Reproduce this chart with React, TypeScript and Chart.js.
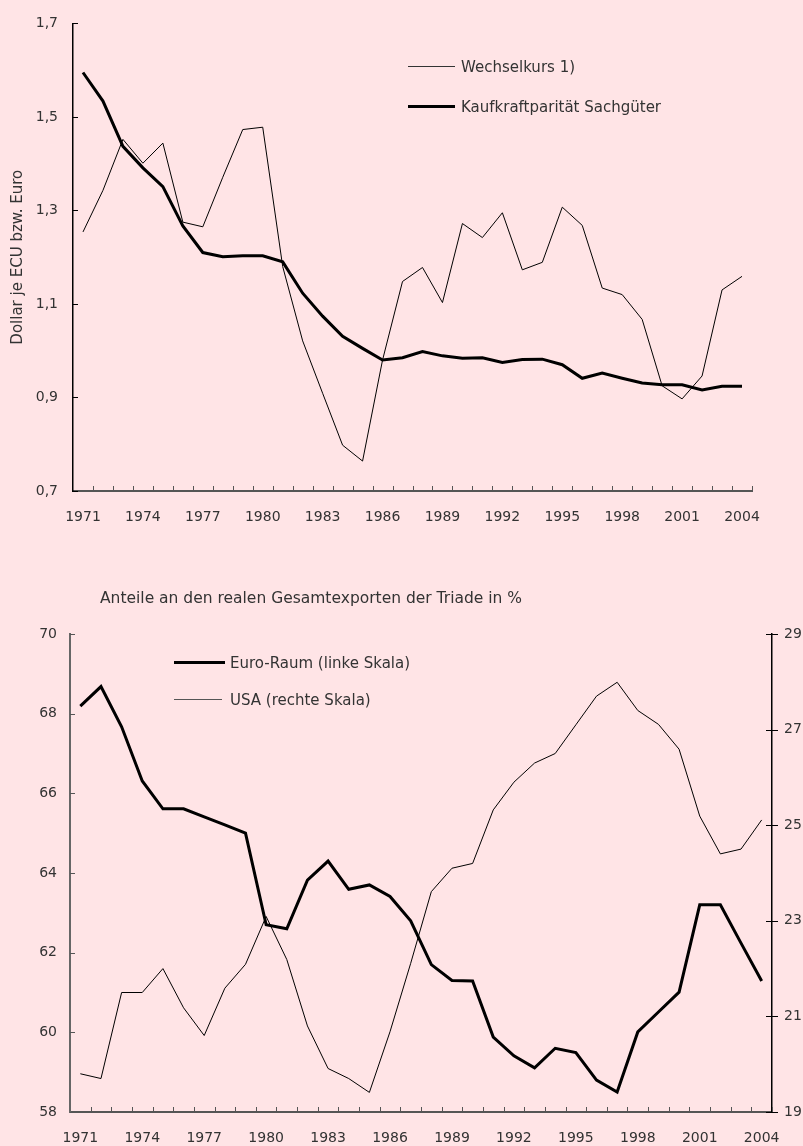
import React, { useEffect, useRef } from 'react';
import { Chart, registerables } from 'chart.js';
Chart.register(...registerables);

const years = [
  '1971','1972','1973','1974','1975','1976','1977','1978','1979','1980',
  '1981','1982','1983','1984','1985','1986','1987','1988','1989','1990',
  '1991','1992','1993','1994','1995','1996','1997','1998','1999','2000',
  '2001','2002','2003','2004',
];
const labeledYears = ['1971','1974','1977','1980','1983','1986','1989','1992','1995','1998','2001','2004'];

// Top chart: Dollar je ECU bzw. Euro
const wechselkurs = [
  1.254, 1.343, 1.452, 1.401, 1.444, 1.275, 1.265, 1.371, 1.473, 1.478,
  1.180, 1.021, 0.909, 0.798, 0.764, 0.980, 1.148, 1.178, 1.103, 1.272,
  1.242, 1.295, 1.173, 1.189, 1.307, 1.268, 1.134, 1.120, 1.067, 0.925,
  0.897, 0.946, 1.130, 1.159,
];
const kaufkraft = [
  1.595, 1.534, 1.437, 1.391, 1.351, 1.267, 1.210, 1.201, 1.203, 1.203,
  1.190, 1.123, 1.074, 1.031, 1.005, 0.980, 0.985, 0.998, 0.989, 0.984,
  0.985, 0.975, 0.981, 0.982, 0.970, 0.941, 0.952, 0.941, 0.931, 0.927,
  0.927, 0.916, 0.924, 0.924,
];

// Bottom chart: Anteile an den realen Gesamtexporten der Triade in %
const euroRaum = [
  68.19, 68.68, 67.67, 66.31, 65.61, 65.61, 65.41, 65.21, 65.00, 62.70,
  62.60, 63.82, 64.30, 63.59, 63.70, 63.41, 62.80, 61.70, 61.30, 61.29,
  59.88, 59.41, 59.11, 59.60, 59.49, 58.80, 58.50, 60.01, 60.51, 61.01,
  63.20, 63.20, 62.24, 61.29,
];
const usa = [
  19.80, 19.70, 21.50, 21.50, 22.00, 21.18, 20.60, 21.59, 22.09, 23.09,
  22.19, 20.80, 19.91, 19.70, 19.41, 20.68, 22.11, 23.61, 24.10, 24.20,
  25.32, 25.90, 26.30, 26.50, 27.10, 27.70, 27.99, 27.40, 27.11, 26.59,
  25.19, 24.40, 24.50, 25.11,
];

const FONT = "'DejaVu Sans', sans-serif";
const TEXT = '#333';
const BG = 'rgb(255,228,230)';
const TICK_SIZE = 14;

const tickMarks = {
  id: 'tickMarks',
  afterDraw(chart: any, _args: any, opts: any) {
    const ctx = chart.ctx;
    const xs = chart.scales.x;
    const n = chart.data.labels.length;
    const step = xs.getPixelForValue(1) - xs.getPixelForValue(0);
    ctx.save();
    ctx.lineWidth = 1;
    ctx.strokeStyle = opts.xColor || '#555';
    for (let i = 1; i <= n; i++) {
      const px = Math.round(xs.getPixelForValue(i - 1) + step / 2) + 0.5;
      ctx.beginPath();
      ctx.moveTo(px, xs.top);
      ctx.lineTo(px, xs.top - 5);
      ctx.stroke();
    }
    (opts.yAxes || []).forEach((a: any) => {
      const s = chart.scales[a.id];
      ctx.strokeStyle = a.color;
      s.ticks.forEach((t: any) => {
        const py = Math.round(s.getPixelForValue(t.value)) + 0.5;
        const base = a.side === 'left' ? s.right : s.left;
        ctx.beginPath();
        if (a.mode === 'cross') {
          ctx.moveTo(base - 6, py);
          ctx.lineTo(base + 6, py);
        } else {
          ctx.moveTo(base, py);
          ctx.lineTo(base + (a.side === 'left' ? 5 : -5), py);
        }
        ctx.stroke();
      });
    });
    ctx.restore();
  },
};

const xScale = (height: number) => ({
  type: 'category' as const,
  offset: true,
  grid: { display: false, drawTicks: false },
  border: { display: true, color: '#555', width: 2 },
  ticks: {
    autoSkip: false,
    maxRotation: 0,
    minRotation: 0,
    padding: 18,
    color: TEXT,
    font: { family: FONT, size: TICK_SIZE },
    callback: function (this: any, v: any) {
      const l = this.getLabelForValue(v);
      return labeledYears.includes(l) ? l : '';
    },
  },
  afterFit: (s: any) => { s.height = height; },
});

function TopChart() {
  const ref = useRef<HTMLCanvasElement>(null);
  useEffect(() => {
    const chart = new Chart(ref.current!, {
      type: 'line',
      data: {
        labels: years,
        datasets: [
          { label: 'Wechselkurs 1)', data: wechselkurs, borderColor: '#000', borderWidth: 1, pointRadius: 0, tension: 0 },
          { label: 'Kaufkraftparität Sachgüter', data: kaufkraft, borderColor: '#000', borderWidth: 3, pointRadius: 0, tension: 0 },
        ],
      },
      options: {
        animation: false,
        responsive: false,
        events: [],
        layout: { padding: { top: 20, left: 0, right: 51, bottom: 0 } },
        plugins: {
          legend: { display: false },
          tooltip: { enabled: false },
          tickMarks: { xColor: '#555', yAxes: [{ id: 'y', side: 'left', mode: 'in', color: '#000' }] },
        } as any,
        scales: {
          x: xScale(49),
          y: {
            min: 0.7,
            max: 1.7,
            grid: { display: false, drawTicks: false },
            border: { display: true, color: '#000', width: 1.5 },
            ticks: {
              stepSize: 0.2,
              padding: 15,
              color: TEXT,
              font: { family: FONT, size: TICK_SIZE },
              callback: (v: any) => Number(v).toFixed(1).replace('.', ','),
            },
            title: {
              display: true,
              text: 'Dollar je ECU bzw. Euro',
              color: TEXT,
              font: { family: FONT, size: 15 },
              padding: { top: 9, bottom: 0 },
            },
            afterFit: (s: any) => { s.width = 73; },
          },
        },
      },
      plugins: [tickMarks],
    } as any);
    return () => chart.destroy();
  }, []);
  return <canvas ref={ref} width={803} height={540} style={{ position: 'absolute', left: 0, top: 0, width: 803, height: 540 }} />;
}

function BottomChart() {
  const ref = useRef<HTMLCanvasElement>(null);
  useEffect(() => {
    const chart = new Chart(ref.current!, {
      type: 'line',
      data: {
        labels: years,
        datasets: [
          { label: 'Euro-Raum (linke Skala)', data: euroRaum, yAxisID: 'y', borderColor: '#000', borderWidth: 3, pointRadius: 0, tension: 0 },
          { label: 'USA (rechte Skala)', data: usa, yAxisID: 'y2', borderColor: '#000', borderWidth: 1, pointRadius: 0, tension: 0 },
        ],
      },
      options: {
        animation: false,
        responsive: false,
        events: [],
        layout: { padding: { top: 74, left: 0, right: 0, bottom: 0 } },
        plugins: {
          legend: { display: false },
          tooltip: { enabled: false },
          tickMarks: {
            xColor: '#555',
            yAxes: [
              { id: 'y', side: 'left', mode: 'in', color: '#555' },
              { id: 'y2', side: 'right', mode: 'cross', color: '#000' },
            ],
          },
        } as any,
        scales: {
          x: xScale(34),
          y: {
            position: 'left',
            min: 58,
            max: 70,
            grid: { display: false, drawTicks: false },
            border: { display: true, color: '#666', width: 2 },
            ticks: { stepSize: 2, padding: 13, color: TEXT, font: { family: FONT, size: TICK_SIZE } },
            afterFit: (s: any) => { s.width = 70; },
          },
          y2: {
            position: 'right',
            min: 19,
            max: 29,
            grid: { display: false, drawTicks: false },
            border: { display: true, color: '#000', width: 1.5 },
            ticks: { stepSize: 2, padding: 12, color: TEXT, font: { family: FONT, size: TICK_SIZE } },
            afterFit: (s: any) => { s.width = 31; },
          },
        },
      },
      plugins: [tickMarks],
    } as any);
    return () => chart.destroy();
  }, []);
  return <canvas ref={ref} width={803} height={586} style={{ position: 'absolute', left: 0, top: 560, width: 803, height: 586 }} />;
}

const textStyle = (left: number, cy: number, size = 15): React.CSSProperties => ({
  position: 'absolute',
  left,
  top: cy - 9,
  height: 18,
  lineHeight: '18px',
  fontFamily: FONT,
  fontSize: size,
  color: TEXT,
  whiteSpace: 'nowrap',
});

const lineStyle = (left: number, width: number, cy: number, thick: number, color: string): React.CSSProperties => ({
  position: 'absolute',
  left,
  top: cy - thick / 2,
  width,
  height: thick,
  background: color,
});

export default function App() {
  useEffect(() => {
    document.body.style.margin = '0';
    document.body.style.background = BG;
  }, []);
  return (
    <div style={{ position: 'relative', width: 803, height: 1146, background: BG, overflow: 'hidden' }}>
      <TopChart />
      <BottomChart />
      <div style={lineStyle(408, 47, 66, 1, '#333')} />
      <div style={textStyle(461, 67)}>Wechselkurs 1)</div>
      <div style={lineStyle(408, 47, 106, 3, '#000')} />
      <div style={textStyle(461, 107)}>Kaufkraftparität Sachgüter</div>
      <div style={textStyle(100, 598, 15.5)}>Anteile an den realen Gesamtexporten der Triade in %</div>
      <div style={lineStyle(174, 51, 662, 3, '#000')} />
      <div style={textStyle(230, 663)}>Euro-Raum (linke Skala)</div>
      <div style={lineStyle(174, 48, 699, 1, '#555')} />
      <div style={textStyle(230, 700)}>USA (rechte Skala)</div>
    </div>
  );
}
